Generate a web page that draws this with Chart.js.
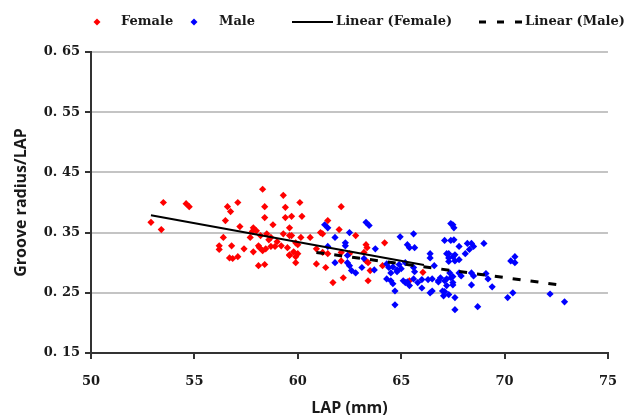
<!DOCTYPE html>
<html>
<head>
<meta charset="utf-8">
<script src="https://cdn.jsdelivr.net/npm/chart.js@4/dist/chart.umd.min.js"></script>
<style>
  html, body { margin: 0; padding: 0; background: #ffffff; }
  #wrap { width: 632px; height: 420px; position: relative; }
</style>
</head>
<body>
<div id="wrap"><canvas id="c" width="632" height="420"></canvas></div>
<script>
// ---- Data ----
const femaleX = [52.9, 53.4, 53.5, 54.6, 54.75,
  58.3, 59.3, 56.6, 56.75, 57.1, 58.4, 59.4, 58.4, 59.4, 56.5, 57.2, 57.85, 58.0, 58.8, 59.6,
  57.8, 58.5, 58.7, 58.6, 59.3, 58.2, 56.4, 57.7, 59.6, 59.0, 56.2, 56.2, 56.8, 57.4, 58.1,
  58.15, 58.7, 58.9, 59.2, 57.85, 58.3, 58.45, 56.7, 56.85, 57.1, 59.6, 58.1, 58.4,
  60.1, 62.1, 59.7, 60.2, 61.45, 61.1, 61.2, 62.0, 59.7, 60.15, 60.6, 62.8, 59.9, 60.0,
  59.5, 59.8, 60.0, 59.6, 59.9, 59.9, 60.9, 61.2, 61.45, 62.1, 62.5, 60.9, 61.35, 62.1,
  62.2, 61.7, 63.2, 63.3, 63.35, 64.2, 63.3, 63.4, 63.5, 64.1, 65.4, 66.05, 63.4];
const femaleY = [0.367, 0.355, 0.400, 0.398, 0.393,
  0.422, 0.412, 0.393, 0.385, 0.400, 0.393, 0.392, 0.375, 0.375, 0.370, 0.360, 0.358, 0.353, 0.363, 0.358,
  0.352, 0.348, 0.342, 0.338, 0.348, 0.345, 0.342, 0.342, 0.345, 0.335, 0.328, 0.322, 0.328, 0.323, 0.328,
  0.325, 0.327, 0.327, 0.328, 0.318, 0.320, 0.323, 0.308, 0.307, 0.310, 0.312, 0.295, 0.297,
  0.400, 0.393, 0.377, 0.377, 0.370, 0.350, 0.348, 0.355, 0.345, 0.342, 0.342, 0.345, 0.333, 0.330,
  0.325, 0.318, 0.315, 0.313, 0.310, 0.300, 0.323, 0.317, 0.315, 0.317, 0.315, 0.298, 0.292, 0.303,
  0.275, 0.267, 0.317, 0.330, 0.325, 0.333, 0.303, 0.300, 0.287, 0.295, 0.270, 0.284, 0.270];

const maleX = [61.3, 61.45, 62.5, 61.8, 61.45, 62.3, 62.3, 62.4, 61.8, 62.4, 62.5, 62.6, 62.8,
  63.3, 63.45, 63.2, 63.1, 64.95, 65.6, 65.3, 65.4, 65.65, 66.4, 66.4, 67.4, 67.1, 67.4, 67.2,
  67.5, 63.75, 64.3, 64.6, 64.8, 65.2, 64.3, 64.5, 64.7, 64.7, 65.2, 65.4, 65.6, 65.8, 66.0,
  66.0, 66.5, 66.8, 67.2, 66.5, 67.0, 67.05, 67.4, 67.5, 63.7, 64.4, 64.5, 64.9, 64.8, 65.0,
  65.6, 65.65, 64.6, 65.1, 65.3, 66.6, 66.3, 66.8, 66.4,
  67.5, 67.55, 67.55, 67.8, 68.2, 68.4, 68.5, 68.3, 68.1, 69.0, 67.3, 67.6, 67.3, 67.3, 67.6,
  67.8, 67.8, 67.9, 67.35, 67.5, 67.5, 68.4, 68.5, 66.9, 67.1, 67.2, 67.1, 67.3, 68.4, 69.1,
  69.2, 69.4, 67.6, 67.6, 68.7, 70.3, 70.5, 70.5, 70.15, 70.4, 72.2, 72.9];
const maleY = [0.363, 0.358, 0.350, 0.342, 0.327, 0.333, 0.328, 0.312, 0.300, 0.300, 0.295, 0.287, 0.283,
  0.367, 0.362, 0.307, 0.292, 0.343, 0.348, 0.330, 0.325, 0.325, 0.315, 0.308, 0.365, 0.337, 0.337, 0.315,
  0.310, 0.323, 0.298, 0.293, 0.288, 0.300, 0.273, 0.270, 0.253, 0.230, 0.267, 0.262, 0.273, 0.267, 0.272,
  0.258, 0.273, 0.270, 0.273, 0.253, 0.253, 0.245, 0.275, 0.267, 0.288, 0.292, 0.283, 0.297, 0.285, 0.290,
  0.292, 0.285, 0.265, 0.270, 0.268, 0.295, 0.272, 0.268, 0.250,
  0.363, 0.358, 0.338, 0.327, 0.332, 0.332, 0.327, 0.322, 0.315, 0.332, 0.315, 0.313, 0.308, 0.302, 0.303,
  0.305, 0.283, 0.278, 0.283, 0.277, 0.263, 0.283, 0.278, 0.275, 0.270, 0.262, 0.252, 0.247, 0.263, 0.282,
  0.273, 0.260, 0.242, 0.222, 0.227, 0.303, 0.310, 0.300, 0.242, 0.250, 0.248, 0.235];

// Trendline end points
const femaleTrendX = [52.9, 66.1];
const femaleTrendY = [0.379, 0.296];
const maleTrendX = [60.9, 72.9];
const maleTrendY = [0.317, 0.262];

const seriesLabels = ['Female', 'Male', 'Linear (Female)', 'Linear (Male)'];
const xTicks = [50, 55, 60, 65, 70, 75];
const yTicks = [0.15, 0.25, 0.35, 0.45, 0.55, 0.65];

// ---- build points ----
const toPts = (xs, ys) => xs.map((x, i) => ({ x: x, y: ys[i] }));

const legendFont = 'bold 13px "DejaVu Serif"';
const customLegend = {
  id: 'customLegend',
  afterDraw(chart) {
    const ctx = chart.ctx;
    const ds = chart.data.datasets;
    const cy = 22;
    ctx.save();
    ctx.font = legendFont;
    ctx.textBaseline = 'middle';
    ctx.textAlign = 'left';
    const diamond = (cx, color) => {
      ctx.beginPath();
      ctx.moveTo(cx, cy - 3.5); ctx.lineTo(cx + 3.5, cy); ctx.lineTo(cx, cy + 3.5); ctx.lineTo(cx - 3.5, cy);
      ctx.closePath(); ctx.fillStyle = color; ctx.fill();
    };
    diamond(97, ds[0].backgroundColor);
    diamond(194, ds[1].backgroundColor);
    ctx.fillStyle = '#1a1a1a';
    ctx.fillText(ds[0].label, 121, cy);
    ctx.fillText(ds[1].label, 219, cy);
    ctx.strokeStyle = '#000';
    ctx.lineWidth = 2;
    ctx.beginPath(); ctx.moveTo(292, cy); ctx.lineTo(333, cy); ctx.stroke();
    ctx.fillText(ds[2].label, 336, cy);
    ctx.lineWidth = 3;
    ctx.setLineDash([7, 11]);
    ctx.beginPath(); ctx.moveTo(479, cy); ctx.lineTo(523, cy); ctx.stroke();
    ctx.setLineDash([]);
    ctx.fillText(ds[3].label, 525, cy);
    ctx.restore();
  }
};

new Chart(document.getElementById('c'), {
  type: 'scatter',
  data: {
    datasets: [
      { label: seriesLabels[0], data: toPts(femaleX, femaleY), backgroundColor: '#ff0000', borderColor: '#ff0000',
        pointStyle: 'rectRot', pointRadius: 3.6, borderWidth: 0, order: 3 },
      { label: seriesLabels[1], data: toPts(maleX, maleY), backgroundColor: '#0000ff', borderColor: '#0000ff',
        pointStyle: 'rectRot', pointRadius: 3.6, borderWidth: 0, order: 2 },
      { label: seriesLabels[2], data: toPts(femaleTrendX, femaleTrendY), showLine: true, borderColor: '#000',
        backgroundColor: '#000', borderWidth: 2, pointRadius: 0, order: 1 },
      { label: seriesLabels[3], data: toPts(maleTrendX, maleTrendY), showLine: true, borderColor: '#000',
        backgroundColor: '#000', borderWidth: 3, borderDash: [8, 10], pointRadius: 0, order: 0 }
    ]
  },
  options: {
    responsive: false,
    animation: false,
    layout: { padding: { top: 52, right: 19, left: 0, bottom: 0 } },
    plugins: { legend: { display: false }, tooltip: { enabled: false } },
    scales: {
      x: {
        type: 'linear', min: 50, max: 75,
        afterBuildTicks: s => { s.ticks = xTicks.map(v => ({ value: v })); },
        afterFit: s => { s.height = 67; },
        grid: { drawOnChartArea: false, drawTicks: true, tickLength: 6, tickColor: '#333', lineWidth: 2 },
        border: { display: true, color: '#333', width: 2 },
        ticks: { padding: 15, color: '#1a1a1a', font: { family: 'DejaVu Serif', weight: 'bold', size: 13 } },
        title: { display: true, text: 'LAP (mm)', color: '#1a1a1a', padding: { top: 0, bottom: 2 },
          font: { family: 'Open Sans', weight: 'bold', size: 16 } }
      },
      y: {
        type: 'linear', min: 0.15, max: 0.65,
        afterBuildTicks: s => { s.ticks = yTicks.map(v => ({ value: v })); },
        afterFit: s => { s.width = 91; },
        grid: { color: c => (c.tick && c.tick.value === 0.15) ? 'rgba(0,0,0,0)' : '#c4c4c4',
          lineWidth: 2, tickLength: 6, tickColor: '#333', drawTicks: true },
        border: { display: true, color: '#333', width: 2 },
        ticks: { padding: 5, color: '#1a1a1a', font: { family: 'DejaVu Serif', weight: 'bold', size: 13 },
          callback: v => v.toFixed(2).replace('.', '. ') },
        title: { display: true, text: 'Groove radius/LAP', color: '#1a1a1a', padding: { top: 12, bottom: 0 },
          font: { family: 'Open Sans', weight: 'bold', size: 16 } }
      }
    }
  },
  plugins: [customLegend]
});
</script>
</body>
</html>
